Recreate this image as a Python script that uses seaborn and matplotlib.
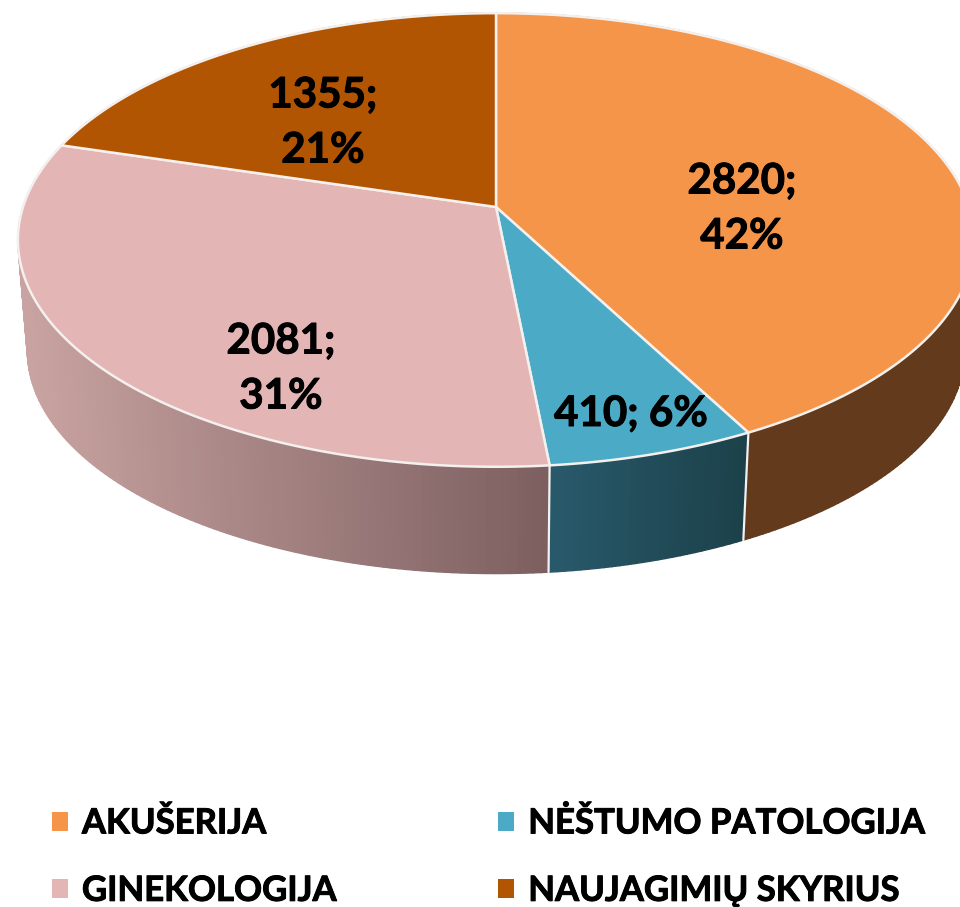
import numpy as np
import seaborn as sns
import matplotlib.pyplot as plt
import matplotlib.patheffects as pe
from matplotlib.patches import Patch

departments = ['AKUŠERIJA', 'NĖŠTUMO PATOLOGIJA', 'GINEKOLOGIJA', 'NAUJAGIMIŲ SKYRIUS']
patients = [2820, 410, 2081, 1355]
percents = [42, 6, 31, 21]
top_colors = ['#F4954A', '#4BABC6', '#E4B5B5', '#B25503']
side_left = ['#633A1C', '#28596A', '#C8A3A1', '#633A1C']
side_right = ['#633A1C', '#1C414B', '#7D5F60', '#633A1C']

sns.set_theme(style='white')
plt.rcParams['font.family'] = ['Lato', 'Open Sans', 'DejaVu Sans']
W, H = 960, 907
BOLDER = [pe.withStroke(linewidth=0.7, foreground='black')]


def project(theta, scale=1.0, drop=0.0):
    # disc seen in perspective: theta runs clockwise from 12 o'clock
    u, v = np.sin(theta), np.cos(theta)
    w = 1 + 0.1454 * v
    x = 496 + scale * 473 * u / w
    y = 207 + drop - scale * 222 * v / w
    return x, y


fig = plt.figure(figsize=(W / 100, H / 100), dpi=100)
ax = fig.add_axes([0, 0, 1, 1])
ax.set_xlim(0, W)
ax.set_ylim(H, 0)
ax.axis('off')

edges = np.concatenate([[0], np.cumsum(patients)]) / sum(patients) * 2 * np.pi
BOTTOM = (0.98, 112)

# side walls first, cut into strips; the shading runs left to right on screen
for i in range(len(patients)):
    n = int(np.degrees(edges[i + 1] - edges[i]) * 1.2)
    th = np.linspace(edges[i], edges[i + 1], n + 1)
    cols = sns.blend_palette([side_left[i], side_right[i]], n)
    xt, yt = project(th)
    xb, yb = project(th, *BOTTOM)
    lo, hi = xb.min(), xb.max()
    for j in range(n):
        mid = (xb[j] + xb[j + 1]) / 2
        c = cols[min(int((mid - lo) / (hi - lo) * n), n - 1)]
        ax.fill([xt[j], xt[j + 1], xb[j + 1], xb[j]], [yt[j], yt[j + 1], yb[j + 1], yb[j]],
                color=c, lw=1.0, zorder=1)

# white seams on the visible wall joints
for e in edges[1:3]:
    xt, yt = project(e)
    xb, yb = project(e, *BOTTOM)
    ax.plot([xt, xb], [yt, yb], color='#f2f2f2', lw=1.6, zorder=2)

# top face
for i in range(len(patients)):
    th = np.linspace(edges[i], edges[i + 1], 200)
    x, y = project(th)
    ax.fill(np.r_[496, x], np.r_[207, y], facecolor=top_colors[i], edgecolor='#f4f0ee',
            lw=1.8, joinstyle='round', zorder=3)

labels = [f'{patients[0]};\n{percents[0]}%', f'{patients[1]}; {percents[1]}%',
          f'{patients[2]};\n{percents[2]}%', f'{patients[3]};\n{percents[3]}%']
label_xy = [(742, 209), (631, 414), (281, 369), (323, 123)]
for txt, (x, y) in zip(labels, label_xy):
    ax.text(x, y, txt, ha='center', va='center', fontsize=30.3, fontweight='bold',
            color='black', linespacing=1.55, zorder=4, path_effects=BOLDER)

handles = [Patch(facecolor=c, edgecolor='none', label=d) for c, d in zip(top_colors, departments)]
order = [0, 2, 1, 3]
leg = fig.legend([handles[k] for k in order], [departments[k] for k in order], ncols=2,
                 loc='lower left', bbox_to_anchor=(0.047, -0.0075), frameon=False,
                 prop={'weight': 'bold', 'size': 25}, labelcolor='black',
                 handlelength=0.46, handleheight=0.46, handletextpad=0.4,
                 columnspacing=4.65, labelspacing=1.02, borderpad=0.2, borderaxespad=0)
for t in leg.get_texts():
    t.set_path_effects(BOLDER)

plt.savefig('out.png', dpi=100)
